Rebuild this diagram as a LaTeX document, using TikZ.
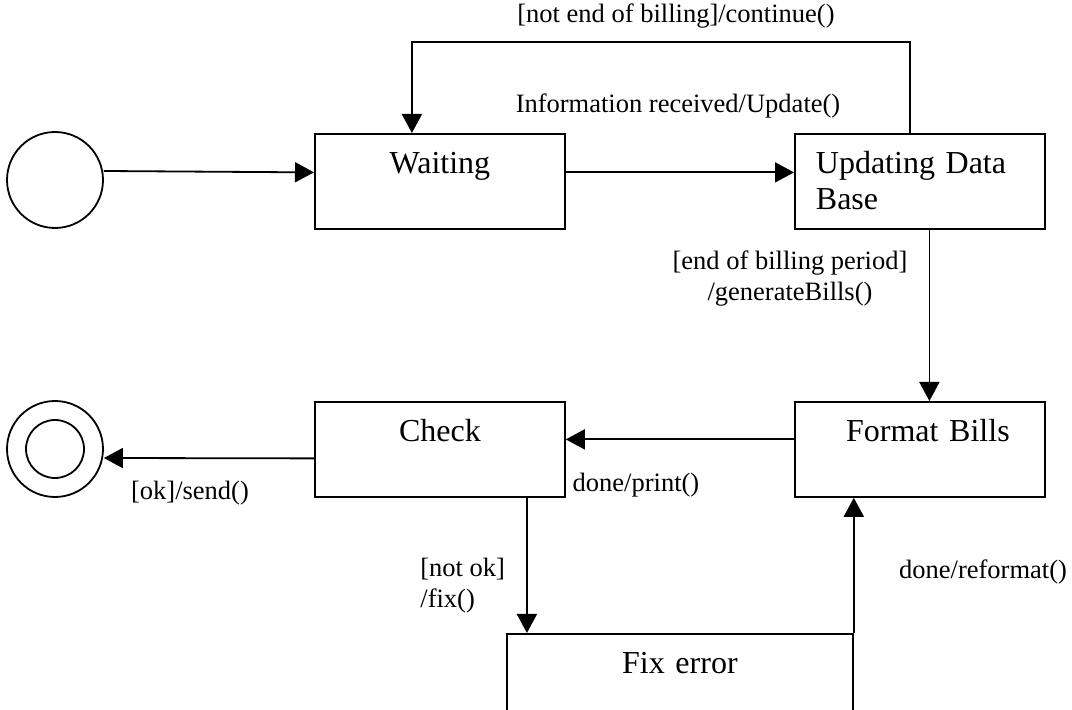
\documentclass[tikz,border=0pt]{standalone}
\usepackage{fontspec}
\setmainfont{Liberation Serif}
\usetikzlibrary{arrows.meta}

\begin{document}
\begin{tikzpicture}[x=.5pt,y=-.5pt,
  state/.style={draw,line width=.9pt,rectangle,anchor=north west,
    inner xsep=10.5pt,inner ysep=0pt,text width=104pt,align=center,
    text height=20pt,text depth=27.5pt,font=\fontsize{16}{18}\selectfont},
  pseudo/.style={draw,line width=.9pt,circle,minimum size=48pt,inner sep=0pt},
  trans/.style={draw,line width=.9pt,-{Triangle[length=9.5pt,width=10pt]}},
  lbl/.style={inner sep=0pt,align=center,font=\fontsize{13.25}{15.5}\selectfont}]
  \clip (0,0) rectangle (1072,710);
  \node[pseudo] (start) at (55,180) {};
  \node[pseudo,path picture={\draw[line width=.9pt]
    (path picture bounding box.center) circle (14.5pt);}] (end) at (55,449) {};
  \node[state] (wait) at (314,133) {Waiting};
  \node[state,align=left] (upd) at (794,133) {Updating Data\\Base};
  \node[state] (check) at (314,401) {Check};
  \node[state] (fmt) at (794,401) {\hspace*{8pt}Format Bills};
  \node[state,text width=152pt] (fix) at (506,633) {Fix error};
  \coordinate (looptop) at (660,42);
  \draw[trans] ([yshift=4.5pt]start.east) -- ([yshift=4.5pt]wait.west);
  \draw[trans] ([yshift=4.5pt]wait.east) -- ([yshift=4.5pt]upd.west);
  \draw[trans] ([xshift=-5pt]upd.north) |- (looptop) -| ([xshift=-14pt]wait.north);
  \draw[trans] ([xshift=4.75pt]upd.south) -- ([xshift=4.75pt]fmt.north);
  \draw[trans] ([yshift=5pt]fmt.west) -- ([yshift=5pt]check.east);
  \draw[trans] ([yshift=-4.5pt]check.west) -- ([yshift=-4.5pt]end.east);
  \draw[trans] ([xshift=43.5pt]check.south) -- ([xshift=43.5pt]check.south |- fix.north);
  \draw[trans] (fix.north east) -- (fix.north east |- fmt.south);
  \node[lbl] (lbl-loop) at (676,16) {[not end of billing]/continue()};
  \node[lbl] (lbl-info) at (678,106) {Information received/Update()};
  \node[lbl] (lbl-gen) at (790,279) {[end of billing period]\\/generateBills()};
  \node[lbl] (lbl-print) at (636,485) {done/print()};
  \node[lbl] (lbl-send) at (190,493) {[ok]/send()};
  \node[lbl,anchor=west,align=left] (lbl-fix) at (420,586) {[not ok]\\/fix()};
  \node[lbl] (lbl-ref) at (983,572) {done/reformat()};
\end{tikzpicture}
\end{document}
